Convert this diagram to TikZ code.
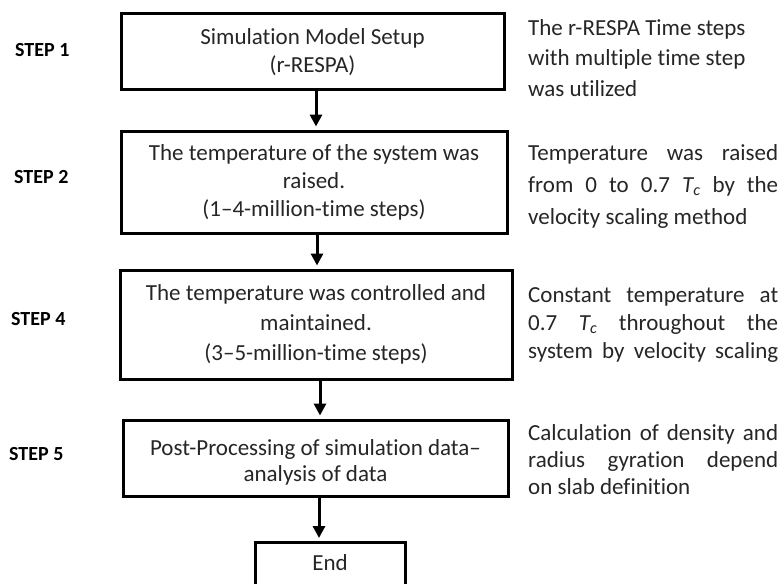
\documentclass[tikz,border=0pt]{standalone}
\usepackage{fontspec}
\setmainfont{Carlito}[Ligatures={NoCommon}]
\usetikzlibrary{arrows.meta}
\tikzset{
  box/.style={draw=black, line width=3pt, inner sep=0pt, align=center,
    font=\fontsize{23}{28}\selectfont, text=black!85},
  steplabel/.style={anchor=west, inner sep=0pt, font=\fontsize{20}{22}\selectfont\bfseries},
  sidetext/.style={anchor=north west, inner sep=0pt, align=left,
    font=\fontsize{23}{28}\selectfont, text=black!85},
  arr/.style={line width=3pt, -{Triangle[length=12pt,width=12pt]}, shorten >=3pt},
}
\newcommand{\jl}[1]{\makebox[250pt][s]{#1}}
\newcommand{\Tc}{{\itshape T\textsubscript{c}}}
\begin{document}
\begin{tikzpicture}[x=1pt,y=-1pt]
\clip (0,0) rectangle (783,583);
\fill[white] (0,0) rectangle (783,583);
% boxes
\node[box, minimum width=383pt, minimum height=76pt] (b1) at (312.5,52)
  {Simulation Model Setup\\(r-RESPA)};
\node[box, minimum width=386pt, minimum height=102pt] (b2) at (314,182)
  {The temperature of the system was\\raised.\\(1--4-million-time steps)};
\node[box, minimum width=392pt, minimum height=109pt, font=\fontsize{23}{30}\selectfont] (b3) at (316,324.5)
  {The temperature was controlled and\\maintained.\\(3--5-million-time steps)};
\node[box, minimum width=385pt, minimum height=76pt, font=\fontsize{23}{26}\selectfont] (b4) at (315.5,458)
  {\rule{0pt}{24pt}Post-Processing of simulation data--\\analysis of data};
\node[box, minimum width=150pt, minimum height=60pt, anchor=north] (b5) at (330,541) {};
\node[font=\fontsize{23}{28}\selectfont, text=black!85] (endt) at (330,563) {End};
% arrows
\draw[arr] ([xshift=3.5pt]b1.south) -- ([xshift=3.5pt]b1.south |- b2.north);
\draw[arr] ([xshift=3pt]b2.south) -- ([xshift=3pt]b2.south |- b3.north);
\draw[arr] ([xshift=4pt]b3.south) -- ([xshift=4pt]b3.south |- b4.north);
\draw[arr] ([xshift=3.5pt]b4.south) -- ([xshift=3.5pt]b4.south |- b5.north);
% step labels
\node[steplabel] (s1) at (15,50) {STEP 1};
\node[steplabel] (s2) at (14,177) {STEP 2};
\node[steplabel] (s4) at (11,319) {STEP 4};
\node[steplabel] (s5) at (9,454) {STEP 5};
% side texts
\node[sidetext, font=\fontsize{23}{30.5}\selectfont] (t1) at (528,19)
  {The r-RESPA Time steps\\with multiple time step\\was utilized};
\node[sidetext, font=\fontsize{23}{32}\selectfont] (t2) at (528,144)
  {\jl{Temperature was raised}\\\jl{from 0 to 0.7 \Tc{} by the}\\velocity scaling method};
\node[sidetext] (t3) at (528,287)
  {\jl{Constant temperature at}\\\jl{0.7 \Tc{} throughout the}\\\jl{system by velocity scaling}};
\node[sidetext, font=\fontsize{23}{27}\selectfont] (t4) at (528,424)
  {\jl{Calculation of density and}\\\jl{radius gyration depend}\\on slab definition};
\end{tikzpicture}
\end{document}
